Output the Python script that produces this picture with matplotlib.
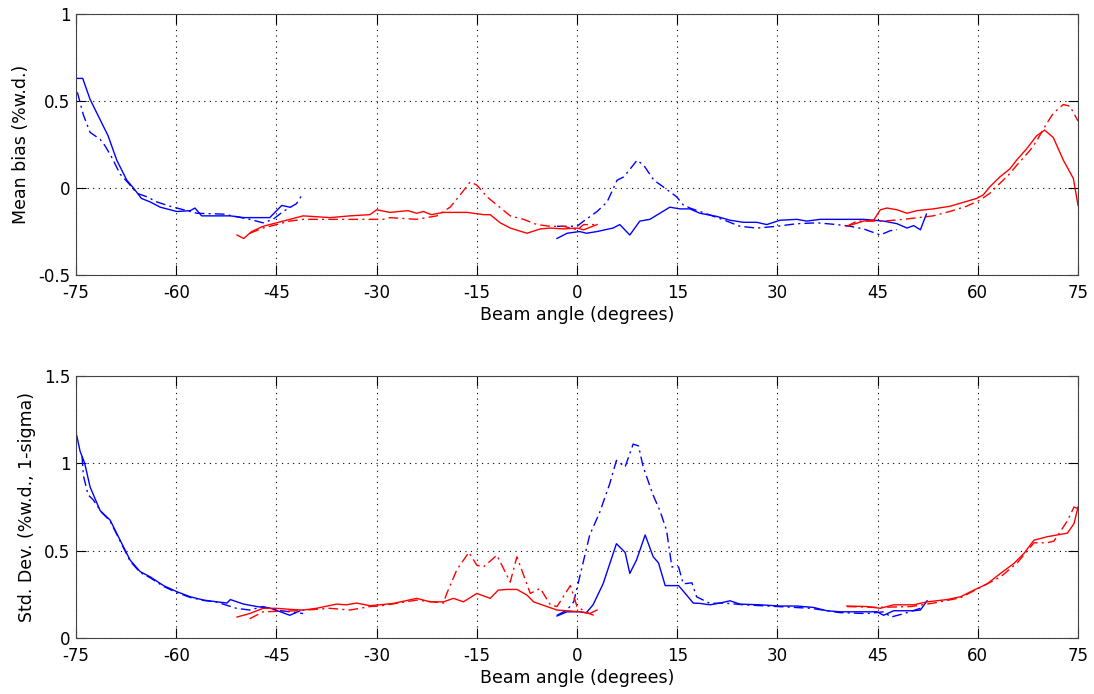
import matplotlib
matplotlib.use("Agg")
from matplotlib import pyplot as plt

# ---- data (beam angle in degrees) ----
# top panel: mean bias (%w.d.)
bias_blue_a_x = [-74.9, -74, -72.9, -70.2, -68.9, -67.4, -66.4, -65.2, -63.9, -62.4, -59.9, -57.9, -57.2,
                 -56.2, -53.9, -51.9, -49.9, -48, -46, -44.2, -43]
bias_blue_a_y = [0.63, 0.63, 0.51, 0.30, 0.16, 0.045, 0.0, -0.06, -0.08, -0.11, -0.135, -0.13, -0.115,
                 -0.16, -0.16, -0.16, -0.17, -0.17, -0.17, -0.10, -0.11]
bias_blue_b_x = [-3, -1.5, 0.4, 1.4, 3, 5.4, 6.4, 7.9, 9.4, 10.9, 12.4, 13.9, 15.4, 16.9, 18.4, 20.9, 22.9,
                 24.9, 26.9, 28.4, 30.4, 32.9, 34.4, 36.4, 38.4, 40.9, 42.9, 45.9, 47.9, 49.4, 50.4, 51.4, 52.3]
bias_blue_b_y = [-0.29, -0.26, -0.25, -0.26, -0.25, -0.23, -0.21, -0.27, -0.19, -0.18, -0.145, -0.11, -0.12,
                 -0.12, -0.145, -0.163, -0.185, -0.197, -0.197, -0.21, -0.185, -0.18, -0.19, -0.18, -0.18,
                 -0.18, -0.18, -0.19, -0.205, -0.23, -0.216, -0.24, -0.15]
bias_blue_dd_a_x = [-74.8, -73.9, -72.9, -71.4, -70.7, -69.7, -68.4, -67.2, -65.9, -64.4, -62.9, -60.9, -56.9,
                    -52.9, -49, -47, -45.5, -44, -42, -41]
bias_blue_dd_a_y = [0.55, 0.42, 0.32, 0.28, 0.245, 0.18, 0.08, 0.03, -0.03, -0.05, -0.08, -0.105, -0.145,
                    -0.15, -0.18, -0.20, -0.18, -0.135, -0.09, -0.03]
bias_blue_dd_b_x = [-3, 0, 1, 3, 4.5, 6, 7, 9, 10, 11.5, 12.9, 14.9, 15.9, 16.9, 19.4, 22.4, 24.4, 26.9, 29.9,
                    32.9, 35.9, 38.9, 40.9, 42.9, 45.4, 46.9, 47.9]
bias_blue_dd_b_y = [-0.22, -0.22, -0.19, -0.135, -0.08, 0.045, 0.064, 0.16, 0.13, 0.045, 0.007, -0.05, -0.097,
                    -0.115, -0.148, -0.19, -0.22, -0.23, -0.22, -0.205, -0.2, -0.21, -0.22, -0.235, -0.27,
                    -0.245, -0.24]
bias_red_a_x = [-50.9, -49.9, -48.7, -47, -45, -43, -41, -37, -34, -31, -30, -28, -25.3, -24, -23, -21.8, -20,
                -16.5, -14, -13, -11.5, -10, -7.5, -5.5, -4, -2, 0, 1, 3]
bias_red_a_y = [-0.27, -0.29, -0.25, -0.22, -0.20, -0.18, -0.16, -0.17, -0.16, -0.153, -0.125, -0.14, -0.13,
                -0.145, -0.135, -0.153, -0.14, -0.14, -0.153, -0.153, -0.20, -0.23, -0.26, -0.235, -0.23,
                -0.235, -0.23, -0.24, -0.21]
bias_red_dd_a_x = [-49, -47, -45, -43, -41, -37, -34, -29, -28, -24, -21, -19, -17.5, -16, -15, -13.5, -12,
                   -10, -8, -6, -4, -2, 0, 1, 3]
bias_red_dd_a_y = [-0.26, -0.23, -0.21, -0.19, -0.18, -0.18, -0.18, -0.18, -0.17, -0.18, -0.16, -0.11, -0.04,
                   0.035, 0.017, -0.05, -0.097, -0.16, -0.18, -0.21, -0.22, -0.22, -0.24, -0.21, -0.21]
bias_red_b_x = [40.4, 42.9, 44.4, 45.4, 46.4, 47.9, 49.4, 50.9, 53.3, 55.8, 58.3, 59.8, 60.8, 61.8, 63.3, 64.8,
                65.8, 67.3, 68.8, 70, 71.3, 72.8, 74.3, 75]
bias_red_b_y = [-0.22, -0.19, -0.185, -0.125, -0.115, -0.125, -0.145, -0.13, -0.12, -0.105, -0.077, -0.06,
                -0.04, 0.007, 0.064, 0.11, 0.16, 0.225, 0.30, 0.333, 0.29, 0.16, 0.055, -0.1]
bias_red_dd_b_x = [40.4, 41.9, 45.9, 48.9, 53.3, 55.8, 58.3, 60.3, 61.8, 63.3, 64.8, 65.8, 67.8, 68.8, 70.3,
                   71.3, 72.8, 73.8, 75]
bias_red_dd_b_y = [-0.22, -0.19, -0.19, -0.18, -0.16, -0.135, -0.105, -0.07, -0.03, 0.027, 0.083, 0.13, 0.216,
                   0.27, 0.37, 0.43, 0.48, 0.47, 0.385]

# bottom panel: std. dev. (%w.d., 1-sigma)
std_blue_a_x = [-74.9, -74.4, -73.7, -72.9, -71.4, -69.9, -68.4, -66.9, -65.4, -63.9, -61.9, -59.9, -57.9,
                -55.9, -53.9, -52.4, -51.9, -49.9, -47.9, -45.9, -44.4, -43, -41.5]
std_blue_a_y = [1.16, 1.07, 1.0, 0.865, 0.73, 0.675, 0.56, 0.446, 0.38, 0.35, 0.30, 0.265, 0.236, 0.217, 0.207,
                0.20, 0.22, 0.194, 0.18, 0.17, 0.15, 0.13, 0.155]
std_blue_dd_a_x = [-74.1, -73.9, -73.2, -72.4, -71.2, -69.9, -68.4, -66.9, -65.4, -63.9, -61.9, -59.9, -57.9,
                   -55.9, -53.9, -51, -49, -47, -45, -43, -41]
std_blue_dd_a_y = [1.04, 0.93, 0.82, 0.79, 0.72, 0.67, 0.555, 0.44, 0.375, 0.345, 0.295, 0.26, 0.232, 0.215,
                   0.205, 0.17, 0.16, 0.18, 0.16, 0.15, 0.14]
std_blue_b_x = [-3, -1.5, 0.4, 1.4, 2.4, 3.9, 5.9, 7.2, 7.9, 8.9, 10.2, 11.4, 12.2, 13.2, 15.2, 16.4, 17.4,
                18.4, 19.9, 21.4, 22.9, 24.4, 27.4, 30.4, 32.9, 35.4, 37.4, 39.4, 43.4, 44.9, 45.9, 47.4,
                50.4, 51.4, 52.4]
std_blue_b_y = [0.126, 0.15, 0.15, 0.145, 0.19, 0.31, 0.54, 0.49, 0.37, 0.446, 0.59, 0.465, 0.43, 0.30, 0.30,
                0.246, 0.20, 0.198, 0.19, 0.20, 0.213, 0.194, 0.19, 0.183, 0.183, 0.175, 0.156, 0.15, 0.15,
                0.15, 0.13, 0.156, 0.156, 0.16, 0.213]
std_blue_dd_b_x = [-3, -1.5, -0.5, 0.4, 1.9, 3.4, 4.9, 5.9, 7.2, 8.4, 9.2, 9.9, 11.4, 12.4, 13.4, 14.2, 15.2,
                   15.9, 17.2, 17.9, 19.9, 22, 25, 30, 35, 39.4, 43.4, 45.9, 47, 49, 51.4]
std_blue_dd_b_y = [0.13, 0.16, 0.207, 0.35, 0.59, 0.72, 0.884, 1.017, 0.98, 1.11, 1.10, 0.98, 0.817, 0.73,
                   0.617, 0.407, 0.407, 0.31, 0.316, 0.236, 0.198, 0.2, 0.19, 0.18, 0.17, 0.145, 0.14, 0.15,
                   0.12, 0.14, 0.17]
std_red_a_x = [-50.9, -49, -47, -45, -43, -41, -39, -36, -34.5, -33, -31, -29.5, -27.5, -24, -22, -20, -18.5,
               -17, -15, -13, -11.8, -10.5, -9, -7.5, -6.5, -4.5, -3, -1.5, 0.4, 1.9, 3]
std_red_a_y = [0.12, 0.14, 0.17, 0.17, 0.164, 0.16, 0.17, 0.194, 0.19, 0.20, 0.185, 0.19, 0.198, 0.227, 0.207,
               0.207, 0.227, 0.207, 0.255, 0.227, 0.274, 0.278, 0.278, 0.246, 0.207, 0.18, 0.16, 0.156, 0.15,
               0.14, 0.16]
std_red_dd_a_x = [-49, -47, -42, -37, -34, -31, -29.5, -24, -20, -19.5, -18, -16.2, -15, -14, -12, -10, -9, -7,
                  -5.5, -4, -3, -1, 0, 1.5, 2.5]
std_red_dd_a_y = [0.11, 0.15, 0.156, 0.17, 0.16, 0.18, 0.183, 0.217, 0.20, 0.255, 0.39, 0.49, 0.417, 0.407,
                  0.474, 0.32, 0.465, 0.255, 0.284, 0.19, 0.18, 0.30, 0.18, 0.145, 0.13]
std_red_b_x = [40.4, 43.4, 45.4, 47.4, 50.4, 52.4, 55.4, 57.4, 59.4, 61.4, 63.4, 65.4, 66.9, 68.4, 70.4, 73.4,
               74.4, 75]
std_red_b_y = [0.183, 0.18, 0.17, 0.19, 0.19, 0.207, 0.22, 0.236, 0.274, 0.31, 0.37, 0.427, 0.484, 0.56, 0.58,
               0.60, 0.655, 0.75]
std_red_dd_b_x = [40.4, 45, 50, 53.4, 57.4, 60.4, 63.4, 65.9, 68.4, 70.4, 71.4, 73.4, 74.4, 75]
std_red_dd_b_y = [0.18, 0.175, 0.18, 0.2, 0.23, 0.29, 0.35, 0.43, 0.545, 0.545, 0.555, 0.67, 0.75, 0.74]

xticks = [-75, -60, -45, -30, -15, 0, 15, 30, 45, 60, 75]

plt.rcParams['font.family'] = ['DejaVu Sans']
plt.rcParams['axes.unicode_minus'] = False
dashdot = (0, (7, 3, 1.5, 3))

fig = plt.figure(figsize=(10.94, 6.94), dpi=100)
ax1 = fig.add_axes([0.0695, 0.6037, 0.9159, 0.3761])
ax2 = fig.add_axes([0.0695, 0.0807, 0.9159, 0.3775])


def style(ax, ylim, yticks, ylabel):
    ax.set_xlim(-75, 75)
    ax.set_ylim(*ylim)
    ax.set_xticks(xticks)
    ax.set_yticks(yticks)
    ax.set_yticklabels(['%g' % v for v in yticks])
    ax.grid(True, linestyle=(0, (1, 4)), color='black', linewidth=0.8)
    ax.tick_params(direction='in', length=7, top=True, right=True, labelsize=12)
    ax.tick_params(axis='x', pad=6.5)
    ax.tick_params(axis='y', pad=4)
    for s in ax.spines.values():
        s.set_color('#444444')
    ax.set_xlabel('Beam angle (degrees)', fontsize=12.5, labelpad=3)
    ax.set_ylabel(ylabel, fontsize=12.5, labelpad=6)


ax1.plot(bias_blue_a_x, bias_blue_a_y, color='blue', lw=1)
ax1.plot(bias_blue_b_x, bias_blue_b_y, color='blue', lw=1)
ax1.plot(bias_blue_dd_a_x, bias_blue_dd_a_y, color='blue', lw=1, linestyle=dashdot)
ax1.plot(bias_blue_dd_b_x, bias_blue_dd_b_y, color='blue', lw=1, linestyle=dashdot)
ax1.plot(bias_red_a_x, bias_red_a_y, color='red', lw=1)
ax1.plot(bias_red_b_x, bias_red_b_y, color='red', lw=1)
ax1.plot(bias_red_dd_a_x, bias_red_dd_a_y, color='red', lw=1, linestyle=dashdot)
ax1.plot(bias_red_dd_b_x, bias_red_dd_b_y, color='red', lw=1, linestyle=dashdot)
style(ax1, (-0.5, 1), [-0.5, 0, 0.5, 1], 'Mean bias (%w.d.)')

ax2.plot(std_blue_a_x, std_blue_a_y, color='blue', lw=1)
ax2.plot(std_blue_b_x, std_blue_b_y, color='blue', lw=1)
ax2.plot(std_blue_dd_a_x, std_blue_dd_a_y, color='blue', lw=1, linestyle=dashdot)
ax2.plot(std_blue_dd_b_x, std_blue_dd_b_y, color='blue', lw=1, linestyle=dashdot)
ax2.plot(std_red_a_x, std_red_a_y, color='red', lw=1)
ax2.plot(std_red_b_x, std_red_b_y, color='red', lw=1)
ax2.plot(std_red_dd_a_x, std_red_dd_a_y, color='red', lw=1, linestyle=dashdot)
ax2.plot(std_red_dd_b_x, std_red_dd_b_y, color='red', lw=1, linestyle=dashdot)
style(ax2, (0, 1.5), [0, 0.5, 1, 1.5], 'Std. Dev. (%w.d., 1-sigma)')

fig.savefig('out.png', dpi=100)
